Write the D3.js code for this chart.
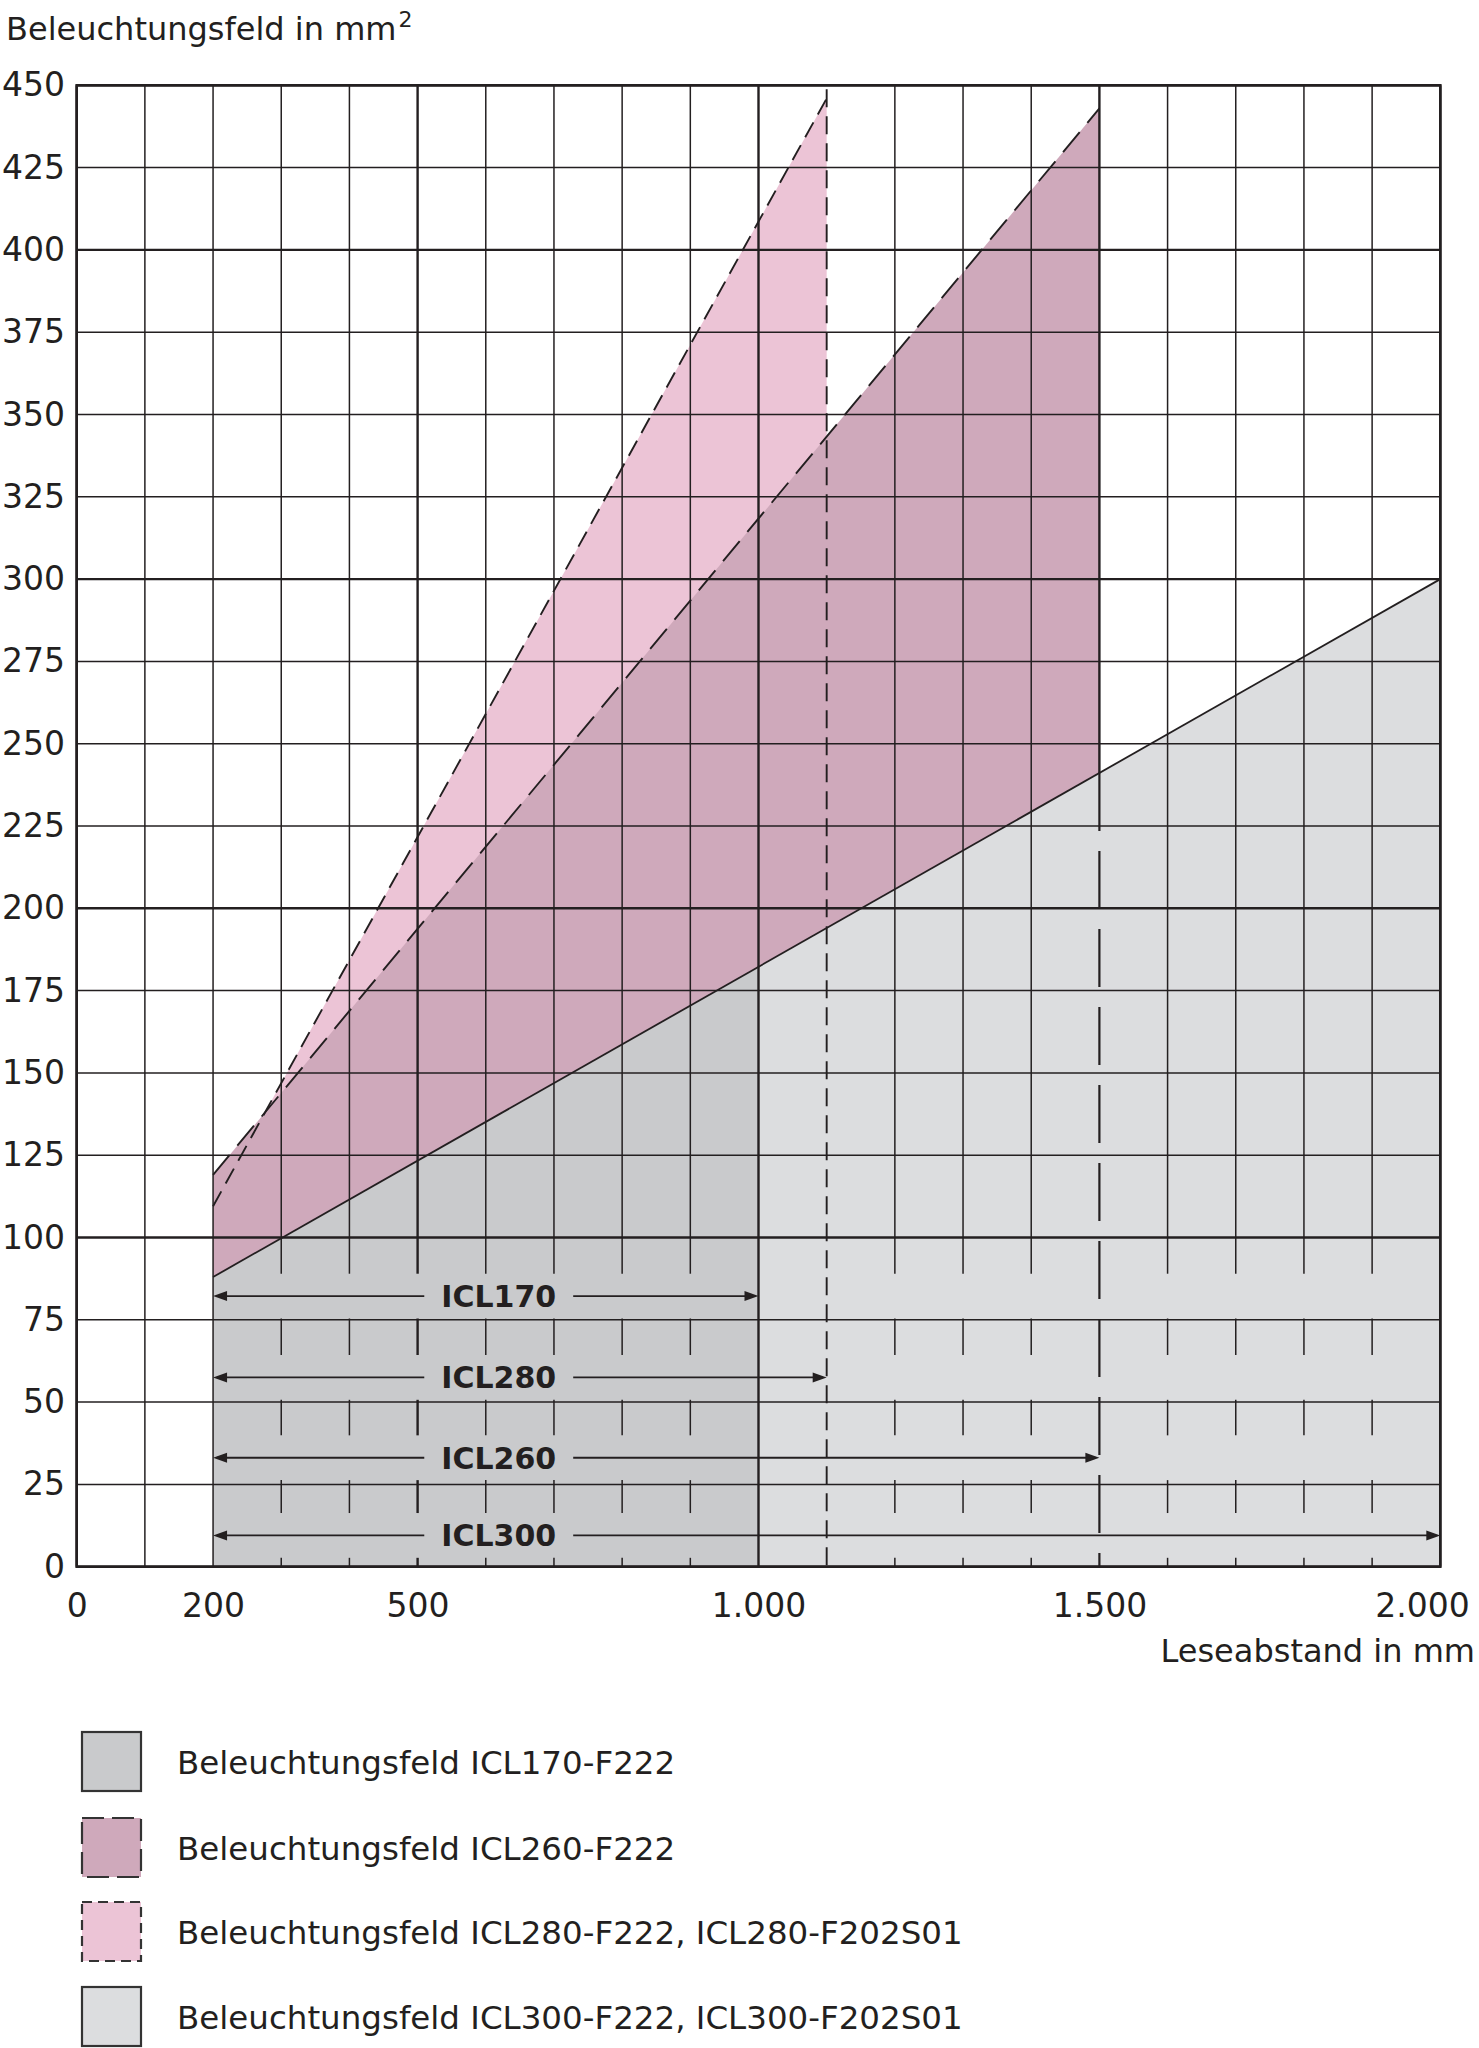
<!DOCTYPE html>
<html><head><meta charset="utf-8">
<script src="https://cdn.jsdelivr.net/npm/d3@7"></script>
<style>
body{margin:0;background:#fff}
svg{display:block}
text{font-family:"DejaVu Sans",sans-serif;fill:#231f20}
</style>
</head><body>
<svg id="c" width="1479" height="2048"></svg>
<script>
// ---------- data ----------
const xTickValues = [0, 200, 500, 1000, 1500, 2000];
const xTickLabels = ["0", "200", "500", "1.000", "1.500", "2.000"];
const yTickValues = [0, 25, 50, 75, 100, 125, 150, 175, 200, 225, 250, 275, 300, 325, 350, 375, 400, 425, 450];
const yTickLabels = ["0","25","50","75","100","125","150","175","200","225","250","275","300","325","350","375","400","425","450"];
const gridXValues = [0,100,200,300,400,500,600,700,800,900,1000,1100,1200,1300,1400,1500,1600,1700,1800,1900,2000];
const majorX = [0, 500, 1000, 1500, 2000];
const majorY = [0, 100, 200, 300, 400, 450];

// upper edges of the illumination fields (Leseabstand mm, Beleuchtungsfeld mm²)
const icl170Edge = [[200, 88], [1000, 182.2]];
const icl300Edge = [[200, 88], [2000, 300]];
const icl260Edge = [[200, 119], [1500, 443]];
const icl280Edge = [[200, 109.5], [1100, 446]];

// reading-distance ranges
const rangeNames = ["ICL170", "ICL280", "ICL260", "ICL300"];
const rangeStart = 200;
const rangeEnds = [1000, 1100, 1500, 2000];

const legendLabels = [
  "Beleuchtungsfeld ICL170-F222",
  "Beleuchtungsfeld ICL260-F222",
  "Beleuchtungsfeld ICL280-F222, ICL280-F202S01",
  "Beleuchtungsfeld ICL300-F222, ICL300-F202S01"
];

// ---------- layout / style ----------
const C = {icl170:"#c9cacc", icl300:"#dcdddf", icl260:"#cfa9bb", icl280:"#ecc4d6", ink:"#231f20"};
const svg = d3.select("#c");
const x = d3.scaleLinear().domain([0, 2000]).range([76.7, 1440.3]);
const y = d3.scaleLinear().domain([0, 450]).range([1566.7, 85.3]);
const bandY = [82.2, 57.5, 33.1, 9.5];   // vertical position of the range arrows (layout)
const gapHalf = 6.8;

const area = d3.area().x(d => x(d[0])).y0(y(0)).y1(d => y(d[1]));
const line = d3.line().x(d => x(d[0])).y(d => y(d[1]));

// fills
svg.append("path").attr("d", area(icl280Edge)).attr("fill", C.icl280);
svg.append("path").attr("d", area(icl260Edge)).attr("fill", C.icl260);
svg.append("path").attr("d", area(icl300Edge)).attr("fill", C.icl300);
svg.append("path").attr("d", area(icl170Edge)).attr("fill", C.icl170);

const grid = svg.append("g").attr("stroke", C.ink).attr("fill", "none");

// horizontal grid
yTickValues.forEach(v => {
  grid.append("line").attr("x1", x(0)).attr("x2", x(2000)).attr("y1", y(v)).attr("y2", y(v))
    .attr("stroke-width", majorY.includes(v) ? 2.4 : 1.5);
});

// vertical grid
const grayAt = d3.scaleLinear().domain([icl300Edge[0][0], icl300Edge[1][0]]).range([icl300Edge[0][1], icl300Edge[1][1]]);
gridXValues.forEach(v => {
  const sw = majorX.includes(v) ? 2.4 : 1.5;
  if (v === 1100) return;                       // replaced by ICL280 dashed edge
  if (v === 1500) {                             // solid above, dashed ICL260 edge below
    grid.append("line").attr("x1", x(v)).attr("x2", x(v)).attr("y1", y(450)).attr("y2", y(grayAt(1500))).attr("stroke-width", sw);
    grid.append("line").attr("x1", x(v)).attr("x2", x(v)).attr("y1", y(grayAt(1500))).attr("y2", y(0))
      .attr("stroke-width", 2.2).attr("stroke-dasharray", "58,20");
    return;
  }
  if (v <= 200 || v === 1000 || v === 2000) {
    grid.append("line").attr("x1", x(v)).attr("x2", x(v)).attr("y1", y(450)).attr("y2", y(0)).attr("stroke-width", sw);
    return;
  }
  grid.append("line").attr("x1", x(v)).attr("x2", x(v)).attr("y1", y(450)).attr("y2", y(100)).attr("stroke-width", sw);
  const bounds = [100];
  bandY.forEach(b => { bounds.push(b + gapHalf); bounds.push(b - gapHalf); });
  bounds.push(0);
  for (let i = 0; i < bounds.length; i += 2) {
    grid.append("line").attr("x1", x(v)).attr("x2", x(v)).attr("y1", y(bounds[i])).attr("y2", y(bounds[i + 1])).attr("stroke-width", sw);
  }
});

// edges
svg.append("path").attr("d", line(icl300Edge)).attr("stroke", C.ink).attr("stroke-width", 1.8).attr("fill", "none");
svg.append("path").attr("d", line(icl260Edge)).attr("stroke", C.ink).attr("stroke-width", 1.9).attr("fill", "none")
  .attr("stroke-dasharray", "26,12");
svg.append("path").attr("d", line(icl280Edge)).attr("stroke", C.ink).attr("stroke-width", 1.9).attr("fill", "none")
  .attr("stroke-dasharray", "17,9");
svg.append("line").attr("x1", x(1100)).attr("x2", x(1100)).attr("y1", y(450) + 4).attr("y2", y(0))
  .attr("stroke", C.ink).attr("stroke-width", 1.9).attr("stroke-dasharray", "18,9");

// range arrows
const labelCenterMm = 619;
rangeNames.forEach((name, i) => {
  const yy = y(bandY[i]);
  const x0 = x(rangeStart), x1 = x(rangeEnds[i]);
  const cx = x(labelCenterMm);
  const g = svg.append("g");
  const t = g.append("text").attr("x", cx).attr("y", yy).attr("dy", "0.36em").attr("text-anchor", "middle")
    .attr("font-size", 30).attr("font-weight", "bold").text(name);
  const hw = t.node().getComputedTextLength() / 2 + 17;
  g.append("line").attr("x1", x0 + 4).attr("x2", cx - hw).attr("y1", yy).attr("y2", yy).attr("stroke", C.ink).attr("stroke-width", 1.8);
  g.append("line").attr("x1", cx + hw).attr("x2", x1 - 4).attr("y1", yy).attr("y2", yy).attr("stroke", C.ink).attr("stroke-width", 1.8);
  g.append("path").attr("d", `M${x0},${yy}L${x0 + 14},${yy - 5}L${x0 + 14},${yy + 5}Z`).attr("fill", C.ink);
  g.append("path").attr("d", `M${x1},${yy}L${x1 - 14},${yy - 5}L${x1 - 14},${yy + 5}Z`).attr("fill", C.ink);
});

// frame
svg.append("rect").attr("x", x(0)).attr("y", y(450)).attr("width", x(2000) - x(0)).attr("height", y(0) - y(450))
  .attr("fill", "none").attr("stroke", C.ink).attr("stroke-width", 2.6);

// axes (labels only)
const yAxis = d3.axisLeft(y).tickValues(yTickValues).tickFormat((d, i) => yTickLabels[i]).tickSize(0).tickPadding(11.7);
const gy = svg.append("g").attr("transform", `translate(${x(0)},0)`).call(yAxis);
gy.select(".domain").remove();
gy.selectAll("text").attr("font-size", 33).attr("font-family", "DejaVu Sans").attr("fill", C.ink);

const xAxis = d3.axisBottom(x).tickValues(xTickValues).tickFormat((d, i) => xTickLabels[i]).tickSize(0).tickPadding(27);
const gx = svg.append("g").attr("transform", `translate(0,${y(0)})`).call(xAxis);
gx.select(".domain").remove();
gx.selectAll("text").attr("font-size", 33).attr("font-family", "DejaVu Sans").attr("fill", C.ink);
// last label sits inside the page edge, right-aligned like the original
gx.selectAll(".tick").filter(d => d === 2000).select("text").attr("text-anchor", "end").attr("x", 29);

// axis titles
const tt = svg.append("text").attr("x", 6).attr("y", 40).attr("font-size", 32);
tt.append("tspan").text("Beleuchtungsfeld in mm");
tt.append("tspan").attr("dx", 2).attr("dy", -13).attr("font-size", 22).text("2");
svg.append("text").attr("x", 1475).attr("y", 1662).attr("text-anchor", "end").attr("font-size", 32).text("Leseabstand in mm");

// legend
const legendTops = [1732, 1818, 1902, 1987];
const legendFill = [C.icl170, C.icl260, C.icl280, C.icl300];
const legendDash = [null, "22,8", "10,6", null];
legendLabels.forEach((lab, i) => {
  const top = legendTops[i];
  svg.append("rect").attr("x", 82).attr("y", top).attr("width", 59).attr("height", 59)
    .attr("fill", legendFill[i]).attr("stroke", "#333").attr("stroke-width", 2.2)
    .attr("stroke-dasharray", legendDash[i]);
  svg.append("text").attr("x", 177).attr("y", top + 30 + 12).attr("font-size", 32.5).text(lab);
});
</script>
</body></html>
